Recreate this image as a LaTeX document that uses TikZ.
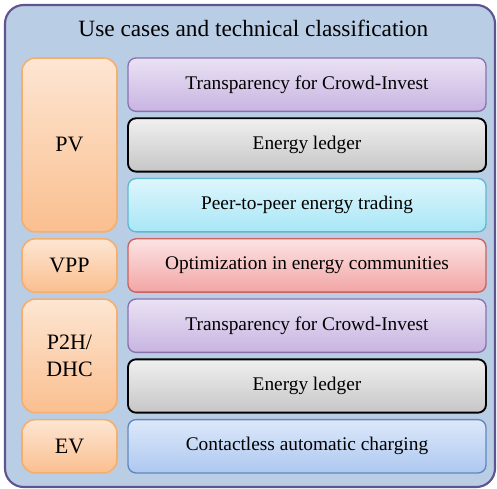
\documentclass[tikz,border=0pt]{standalone}
\usepackage{fontspec}
\setmainfont{Liberation Serif}
\usetikzlibrary{positioning}

\definecolor{framefill}{HTML}{B9CDE5}
\definecolor{frameline}{HTML}{5E5490}
\definecolor{orangeline}{HTML}{F6AE6E}
\definecolor{orangetop}{HTML}{FDE6D3}
\definecolor{orangebot}{HTML}{FABF8F}
\definecolor{purpleline}{HTML}{8A72AE}
\definecolor{purpletop}{HTML}{EAE2F4}
\definecolor{purplebot}{HTML}{C8B4E1}
\definecolor{graytop}{HTML}{F0F0F0}
\definecolor{graybot}{HTML}{C6C6C6}
\definecolor{cyanline}{HTML}{5DB8D0}
\definecolor{cyantop}{HTML}{DDF6FC}
\definecolor{cyanbot}{HTML}{A8E6F6}
\definecolor{redline}{HTML}{C9615E}
\definecolor{redtop}{HTML}{FCE3E3}
\definecolor{redbot}{HTML}{F2A5A5}
\definecolor{blueline}{HTML}{5F88C0}
\definecolor{bluetop}{HTML}{DDE8F9}
\definecolor{bluebot}{HTML}{ADC8F0}

\tikzstyle{usecase} = [rectangle, rounded corners=6pt, minimum width=268.5pt, minimum height=40pt, outer sep=0pt, text centered, line width=1pt, font=\fontsize{14.5}{17}\selectfont]
\tikzstyle{techbox} = [rectangle, rounded corners=10pt, minimum width=71.25pt, outer sep=0pt, text centered, align=center, draw=orangeline, line width=1.2pt, top color=orangetop, bottom color=orangebot, font=\fontsize{16.5}{20.5}\selectfont]

\begin{document}
\begin{tikzpicture}
\useasboundingbox (0,0) rectangle (372.75pt,-366.75pt);
%Frame and title
\draw [frameline, fill=framefill, line width=1.6pt, rounded corners=14pt] (3.75pt,-3.75pt) rectangle (371.25pt,-365.25pt);
\node (title) at (190pt,-21pt) [font=\fontsize{17.5}{21}\selectfont] {Use cases and technical classification};

%Use cases
\node (trans1) [usecase, anchor=north west, draw=purpleline, top color=purpletop, bottom color=purplebot] at (96pt,-43.5pt) {Transparency for Crowd-Invest};
\node (ledger1) [usecase, below=5.2pt of trans1, draw=black, line width=1.4pt, top color=graytop, bottom color=graybot] {Energy ledger};
\node (p2p) [usecase, below=5.2pt of ledger1, draw=cyanline, top color=cyantop, bottom color=cyanbot] {Peer-to-peer energy trading};
\node (optim) [usecase, below=5.2pt of p2p, draw=redline, top color=redtop, bottom color=redbot] {Optimization in energy communities};
\node (trans2) [usecase, below=5.2pt of optim, draw=purpleline, top color=purpletop, bottom color=purplebot] {Transparency for Crowd-Invest};
\node (ledger2) [usecase, below=5.2pt of trans2, draw=black, line width=1.4pt, top color=graytop, bottom color=graybot] {Energy ledger};
\node (charging) [usecase, below=5.2pt of ledger2, draw=blueline, top color=bluetop, bottom color=bluebot] {Contactless automatic charging};

%Technical classification
\node (pv) [techbox, minimum height=130.4pt, anchor=north east] at ([xshift=-8.25pt]trans1.north west) {PV};
\node (vpp) [techbox, minimum height=40pt, anchor=north east] at ([xshift=-8.25pt]optim.north west) {VPP};
\node (p2h) [techbox, minimum height=85.2pt, anchor=north east] at ([xshift=-8.25pt]trans2.north west) {P2H/\\DHC};
\node (ev) [techbox, minimum height=40pt, anchor=north east] at ([xshift=-8.25pt]charging.north west) {EV};
\end{tikzpicture}
\end{document}
